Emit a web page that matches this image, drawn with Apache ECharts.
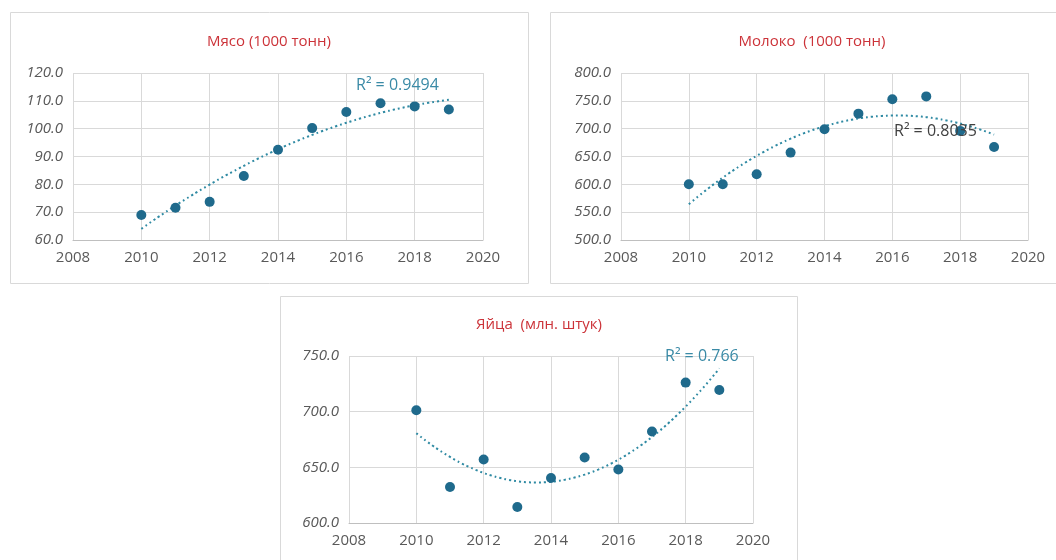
<!DOCTYPE html>
<html><head><meta charset="utf-8">
<script src="https://cdn.jsdelivr.net/npm/echarts@6/dist/echarts.min.js"></script>
<style>html,body{margin:0;padding:0;background:#fff}#c{width:1056px;height:560px}</style>
</head><body><div id="c"></div>
<script>
const years = [2010, 2011, 2012, 2013, 2014, 2015, 2016, 2017, 2018, 2019];
const meat = [69.0, 71.6, 73.7, 83.0, 92.4, 100.2, 106.0, 109.1, 108.0, 106.9];
const milk = [600, 600, 618, 657, 699, 727, 753, 758, 696, 667];
const eggs = [701.3, 632.3, 657.1, 614.4, 640.4, 658.9, 648.1, 682.2, 726.1, 719.5];
const titles = ['Мясо (1000 тонн)', 'Молоко  (1000 тонн)', 'Яйца  (млн. штук)'];
const r2Labels = ['R² = 0.9494', 'R² = 0.8035', 'R² = 0.766'];

// quadratic least-squares trendline (Excel polynomial order 2)
function quadFit(xs, ys) {
  const x0 = 2010;
  let S = [0,0,0,0,0], T = [0,0,0];
  xs.forEach((x, i) => {
    const t = x - x0;
    for (let k = 0; k < 5; k++) S[k] += Math.pow(t, k);
    for (let k = 0; k < 3; k++) T[k] += ys[i] * Math.pow(t, k);
  });
  const A = [[S[0],S[1],S[2],T[0]],[S[1],S[2],S[3],T[1]],[S[2],S[3],S[4],T[2]]];
  for (let i = 0; i < 3; i++) {
    for (let j = i+1; j < 3; j++) {
      const f = A[j][i] / A[i][i];
      for (let k = i; k < 4; k++) A[j][k] -= f * A[i][k];
    }
  }
  const c = [0,0,0];
  for (let i = 2; i >= 0; i--) {
    let s = A[i][3];
    for (let k = i+1; k < 3; k++) s -= A[i][k] * c[k];
    c[i] = s / A[i][i];
  }
  const pts = [];
  for (let x = xs[0]; x <= xs[xs.length-1] + 1e-9; x += 0.1) {
    const t = x - x0;
    pts.push([x, c[0] + c[1]*t + c[2]*t*t]);
  }
  return pts;
}

const dotColor = '#1f6a8c';
const trendColor = '#2f8aa3';
const grids = [
  {left: 73, right: 573, top: 73, bottom: 320},
  {left: 621, right: 28, top: 73, bottom: 320},
  {left: 349, right: 303, top: 356, bottom: 37}
];
const yRanges = [[60,120,10],[500,800,50],[600,750,50]];
const datasets = [meat, milk, eggs];

const xAxes = grids.map((g, i) => ({
  type: 'value', gridIndex: i, min: 2008, max: 2020, interval: 2,
  axisLine: {show: true, lineStyle: {color: '#bfbfbf'}},
  axisTick: {show: false},
  splitLine: {show: true, lineStyle: {color: '#d9d9d9'}},
  axisLabel: {color: '#595959', fontSize: 15, fontFamily: 'Open Sans', margin: 10, formatter: v => String(v)}
}));
const yAxes = yRanges.map((r, i) => ({
  type: 'value', gridIndex: i, min: r[0], max: r[1], interval: r[2],
  axisLine: {show: false}, axisTick: {show: false},
  splitLine: {show: true, lineStyle: {color: '#d9d9d9'}},
  axisLabel: {color: '#595959', fontSize: 15, fontStyle: 'italic', fontFamily: 'Open Sans', margin: 10, formatter: v => v.toFixed(1)}
}));

const series = [];
datasets.forEach((d, i) => {
  series.push({
    type: 'line', xAxisIndex: i, yAxisIndex: i, data: quadFit(years, d),
    showSymbol: false, symbol: 'none', smooth: true,
    lineStyle: {color: trendColor, width: 2, type: [2, 3]}, z: 2, silent: true
  });
  series.push({
    type: 'scatter', xAxisIndex: i, yAxisIndex: i,
    data: years.map((y, k) => [y, d[k]]),
    symbolSize: 10, itemStyle: {color: dotColor, opacity: 1}, z: 3
  });
});

const boxes = [
  {x: 10, y: 12, w: 518, h: 271},
  {x: 550, y: 12, w: 510, h: 271},
  {x: 280, y: 296, w: 517, h: 270}
];
const graphic = boxes.map(b => ({
  type: 'rect', shape: {x: b.x + 0.5, y: b.y + 0.5, width: b.w, height: b.h},
  style: {fill: 'none', stroke: '#d9d9d9', lineWidth: 1}, z: -1, silent: true
}));
const r2Pos = [
  {x: 356, y: 77, color: '#3a8aa6'},
  {x: 894, y: 123, color: '#404040'},
  {x: 665, y: 348, color: '#3a8aa6'}
];
r2Pos.forEach((p, i) => graphic.push({
  type: 'text', left: p.x, top: p.y, z: 10,
  style: {text: r2Labels[i], fill: p.color, font: '16px "Open Sans"'}
}));

const chart = echarts.init(document.getElementById('c'));
chart.setOption({
  animation: false,
  title: [
    {text: titles[0], left: 264, top: 29, textAlign: 'center'},
    {text: titles[1], left: 807, top: 29, textAlign: 'center'},
    {text: titles[2], left: 534, top: 312, textAlign: 'center'}
  ].map(t => Object.assign(t, {textStyle: {color: '#cc3339', fontSize: 15, fontWeight: 'normal', fontFamily: 'Open Sans'}})),
  grid: grids,
  xAxis: xAxes,
  yAxis: yAxes,
  series: series,
  graphic: graphic
});
</script></body></html>
